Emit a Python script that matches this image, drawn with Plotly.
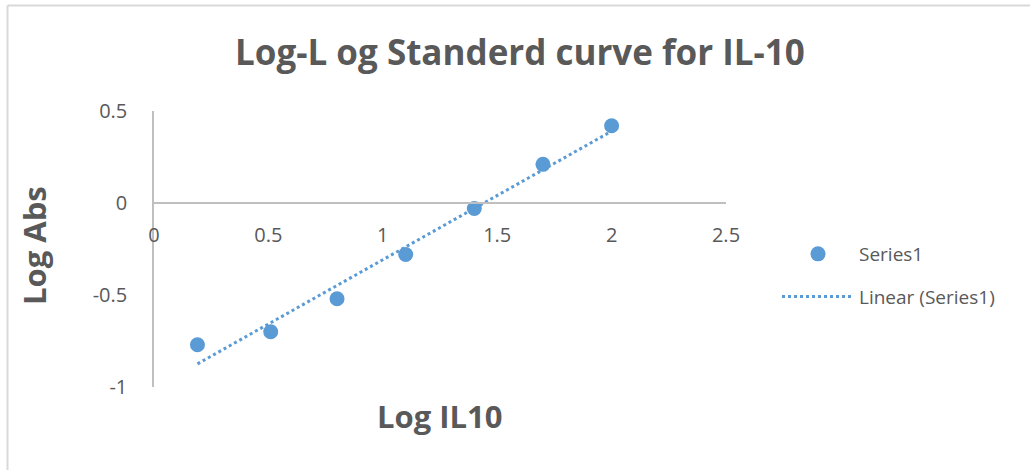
import numpy as np
import plotly.graph_objects as go

# Standard curve data (log10 concentration vs log10 absorbance)
log_il10 = [0.19, 0.51, 0.80, 1.10, 1.40, 1.70, 2.00]
log_abs = [-0.77, -0.70, -0.52, -0.28, -0.03, 0.21, 0.42]

x_ticks = [0, 0.5, 1, 1.5, 2, 2.5]
x_tick_text = ["0", "0.5", "1", "1.5", "2", "2.5"]
y_ticks = [-1, -0.5, 0, 0.5]
y_tick_text = ["-1", "-0.5", "0", "0.5"]

# Least-squares linear trendline over the data range
slope, intercept = np.polyfit(log_il10, log_abs, 1)
trend_x = [min(log_il10), max(log_il10)]
trend_y = [slope * v + intercept for v in trend_x]

W, H = 1031, 470
ML, MR, MT, MB = 154, 305, 111, 83
PW, PH = W - ML - MR, H - MT - MB

BLUE = "#5b9bd5"
TEXT = "#595959"
AXIS = "#bfbfbf"
FONT = "Open Sans"

fig = go.Figure()
fig.add_trace(go.Scatter(
    x=log_il10, y=log_abs, mode="markers", name="Series1",
    marker=dict(color=BLUE, size=15), legendgroup="a",
))
fig.add_trace(go.Scatter(
    x=trend_x, y=trend_y, mode="lines", name="Linear (Series1)",
    line=dict(color=BLUE, width=3, dash="dot"), legendgroup="b",
))

# x axis crosses the y axis at 0
y_min, y_max = -1, 0.5
x_cross = (0 - y_min) / (y_max - y_min)

fig.update_layout(
    width=W, height=H,
    margin=dict(l=ML, r=MR, t=MT, b=MB, pad=0),
    paper_bgcolor="white", plot_bgcolor="white",
    font=dict(family=FONT, color=TEXT, size=20),
    showlegend=True,
    legend=dict(
        x=(777 - ML) / PW, y=(387 - 235) / PH, xanchor="left", yanchor="top",
        font=dict(size=19, color=TEXT, family=FONT),
        tracegroupgap=15, itemwidth=72, bgcolor="rgba(0,0,0,0)",
    ),
    xaxis=dict(
        range=[0, 2.5], tickvals=x_ticks, ticktext=x_tick_text,
        showgrid=False, zeroline=False, showline=True, linecolor=AXIS,
        linewidth=1.5, ticks="", anchor="free", position=x_cross,
        ticklabelstandoff=14, tickfont=dict(size=20, color=TEXT),
    ),
    yaxis=dict(
        range=[y_min, y_max], tickvals=y_ticks, ticktext=y_tick_text,
        showgrid=False, zeroline=False, showline=True, linecolor=AXIS,
        linewidth=1.5, ticks="", ticklabelstandoff=21,
        tickfont=dict(size=20, color=TEXT),
    ),
    annotations=[
        dict(text="<b>Log-L og Standerd curve for IL-10</b>",
             xref="paper", yref="paper",
             x=(520 - ML) / PW, y=(H - MB - 52) / PH,
             xanchor="center", yanchor="middle", showarrow=False,
             font=dict(size=35, color=TEXT, family=FONT)),
        dict(text="<b>Log IL10</b>", xref="paper", yref="paper",
             x=(440 - ML) / PW, y=(H - MB - 416) / PH,
             xanchor="center", yanchor="middle", showarrow=False,
             font=dict(size=31, color=TEXT, family=FONT)),
        dict(text="<b>Log Abs</b>", xref="paper", yref="paper",
             x=(34 - ML) / PW, y=(H - MB - 246) / PH, textangle=-90,
             xanchor="center", yanchor="middle", showarrow=False,
             font=dict(size=31, color=TEXT, family=FONT)),
    ],
    shapes=[
        # chart-area border (left and top edges)
        dict(type="line", xref="paper", yref="paper",
             x0=(7.5 - ML) / PW, x1=(7.5 - ML) / PW,
             y0=(H - MB - 470) / PH, y1=(H - MB - 5.5) / PH,
             line=dict(color="#d9d9d9", width=2)),
        dict(type="line", xref="paper", yref="paper",
             x0=(7.5 - ML) / PW, x1=(1030 - ML) / PW,
             y0=(H - MB - 5.5) / PH, y1=(H - MB - 5.5) / PH,
             line=dict(color="#d9d9d9", width=2)),
    ],
)

fig.write_html("out.html")
